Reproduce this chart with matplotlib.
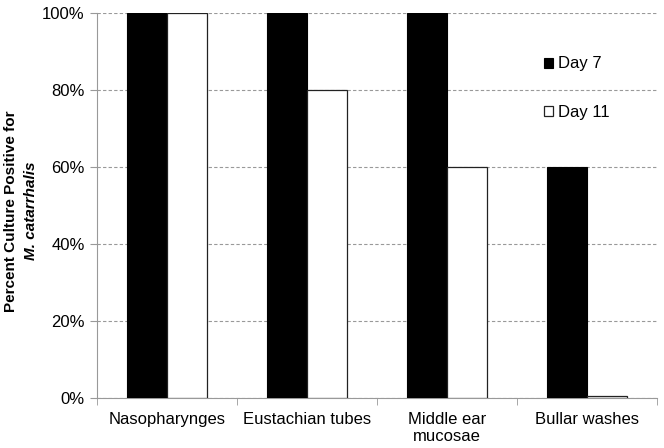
import numpy as np
import matplotlib
matplotlib.use("Agg")
import matplotlib.pyplot as plt
from matplotlib.ticker import PercentFormatter

categories = ["Nasopharynges", "Eustachian tubes", "Middle ear\nmucosae", "Bullar washes"]
day7 = [100, 100, 100, 60]
day11 = [100, 80, 60, 0.5]

plt.rcParams["font.family"] = ["Liberation Sans", "DejaVu Sans"]
plt.rcParams["font.size"] = 12

fig = plt.figure(figsize=(6.64, 4.48), dpi=100)
ax = fig.add_axes([0.1461, 0.1116, 0.8434, 0.8594])

x = np.arange(len(categories))
w = 0.286
ax.bar(x - w / 2, day7, w, color="black", edgecolor="black", lw=0.8, label="Day 7", zorder=3)
ax.bar(x + w / 2, day11, w, color="white", edgecolor="#222222", lw=0.9, label="Day 11", zorder=3)

ax.set_xlim(-0.5, len(categories) - 0.5)
ax.set_ylim(0, 100)
ax.set_yticks(np.arange(0, 101, 20))
ax.yaxis.set_major_formatter(PercentFormatter(decimals=0))
ax.yaxis.grid(True, color="#999999", ls=(0, (3, 2)), lw=0.8, zorder=0)

ax.set_xticks(x)
ax.set_xticklabels(categories, va="top", linespacing=1.2)
ax.tick_params(axis="x", length=0, pad=10)
ax.set_xticks(np.arange(-0.5, len(categories)), minor=True)
ax.tick_params(axis="x", which="minor", length=5, color="#999999", direction="out")
ax.tick_params(axis="y", length=5, color="#999999", pad=4)

for s in ["top", "right"]:
    ax.spines[s].set_visible(False)
for s in ["left", "bottom"]:
    ax.spines[s].set_color("#999999")

# two-line y label, second line in italics
fig.text(0.0165, 0.529, "Percent Culture Positive for", rotation=90, ha="center", va="center",
         fontweight="bold", fontsize=11)
fig.text(0.0465, 0.529, "M. catarrhalis", rotation=90, ha="center", va="center",
         fontweight="bold", style="italic", fontsize=11)

ax.legend(loc="upper left", bbox_to_anchor=(0.771, 0.926), frameon=False, handlelength=0.55,
          handleheight=0.55, handletextpad=0.3, labelspacing=2.0, fontsize=12)

fig.savefig("out.png", dpi=100)
